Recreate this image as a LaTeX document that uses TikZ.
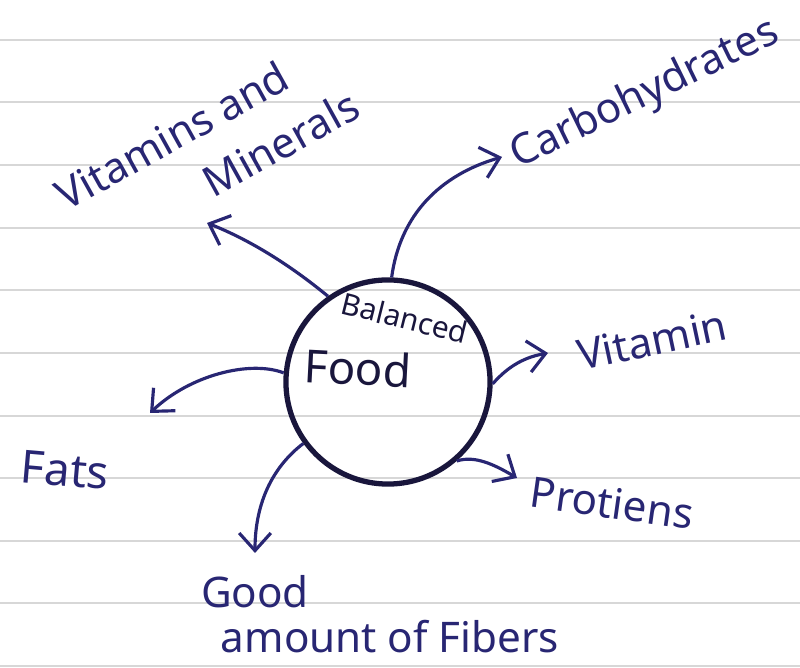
\documentclass[tikz,border=0pt]{standalone}
\usepackage{fontspec}
\setmainfont{Noto Sans}
\usetikzlibrary{arrows.meta}
\definecolor{ink}{RGB}{40,38,115}
\definecolor{darkink}{RGB}{25,22,60}
\definecolor{ruleline}{RGB}{215,215,215}
\begin{document}
\begin{tikzpicture}[x=0.01cm,y=-0.01cm,
  conn/.style={draw=ink, line width=0.9pt, -{Straight Barb[length=5pt,width=9pt]}},
  lbl/.style={text=ink, font=\fontsize{12}{14}\selectfont, inner sep=0pt},
  inner/.style={text=darkink, inner sep=0pt},
  paperline/.style={draw=ruleline, line width=0.6pt}
]
\useasboundingbox[fill=white] (0,0) rectangle (800,668);
\foreach \y in {40,102,165,228,290,353,416,478,541,603,666}
  \draw[paperline] (0,\y) -- (800,\y);

\node[circle, draw=darkink, line width=1.5pt, minimum size=2.04cm, inner sep=0pt] (food) at (388,382) {};
\node[inner, font=\fontsize{8.5}{10}\selectfont, rotate=-14] (bal) at (405,318) {Balanced};
\node[inner, font=\fontsize{13}{15}\selectfont, rotate=-3] (foodtxt) at (358,368) {Food};

\node[lbl, font=\fontsize{12}{17}\selectfont, align=left, rotate=29] (vm) at (207,150) {Vitamins and\\\hspace*{1.35cm}Minerals};
\node[lbl, rotate=26] (carb) at (645,95) {Carbohydrates};
\node[lbl, rotate=12] (vit) at (652,340) {Vitamin};
\node[lbl, rotate=-8] (prot) at (612,503) {Protiens};
\node[lbl, font=\fontsize{13}{15}\selectfont, rotate=-5] (fats) at (65,470) {Fats};
\node[lbl] (good) at (255,592) {Good};
\node[lbl] (fib) at (390,637) {amount of Fibers};

\coordinate (vmtip) at (207,223);
\coordinate (carbtip) at (502,157);
\coordinate (vittip) at (548,353);
\coordinate (prottip) at (517,478);
\coordinate (fatstip) at (150,413);
\coordinate (fibtip) at (255,553);

\draw[conn] (food.125) .. controls (290,265) and (250,240) .. (vmtip);
\draw[conn] (food.88) .. controls (400,215) and (440,175) .. (carbtip);
\draw[conn] (food.-1) .. controls (505,370) and (520,358) .. (vittip);
\draw[conn] (food.-49) .. controls (475,455) and (495,465) .. (prottip);
\draw[conn] (food.175) .. controls (250,360) and (190,375) .. (fatstip);
\draw[conn] (food.-144) .. controls (275,465) and (255,500) .. (fibtip);
\end{tikzpicture}
\end{document}
